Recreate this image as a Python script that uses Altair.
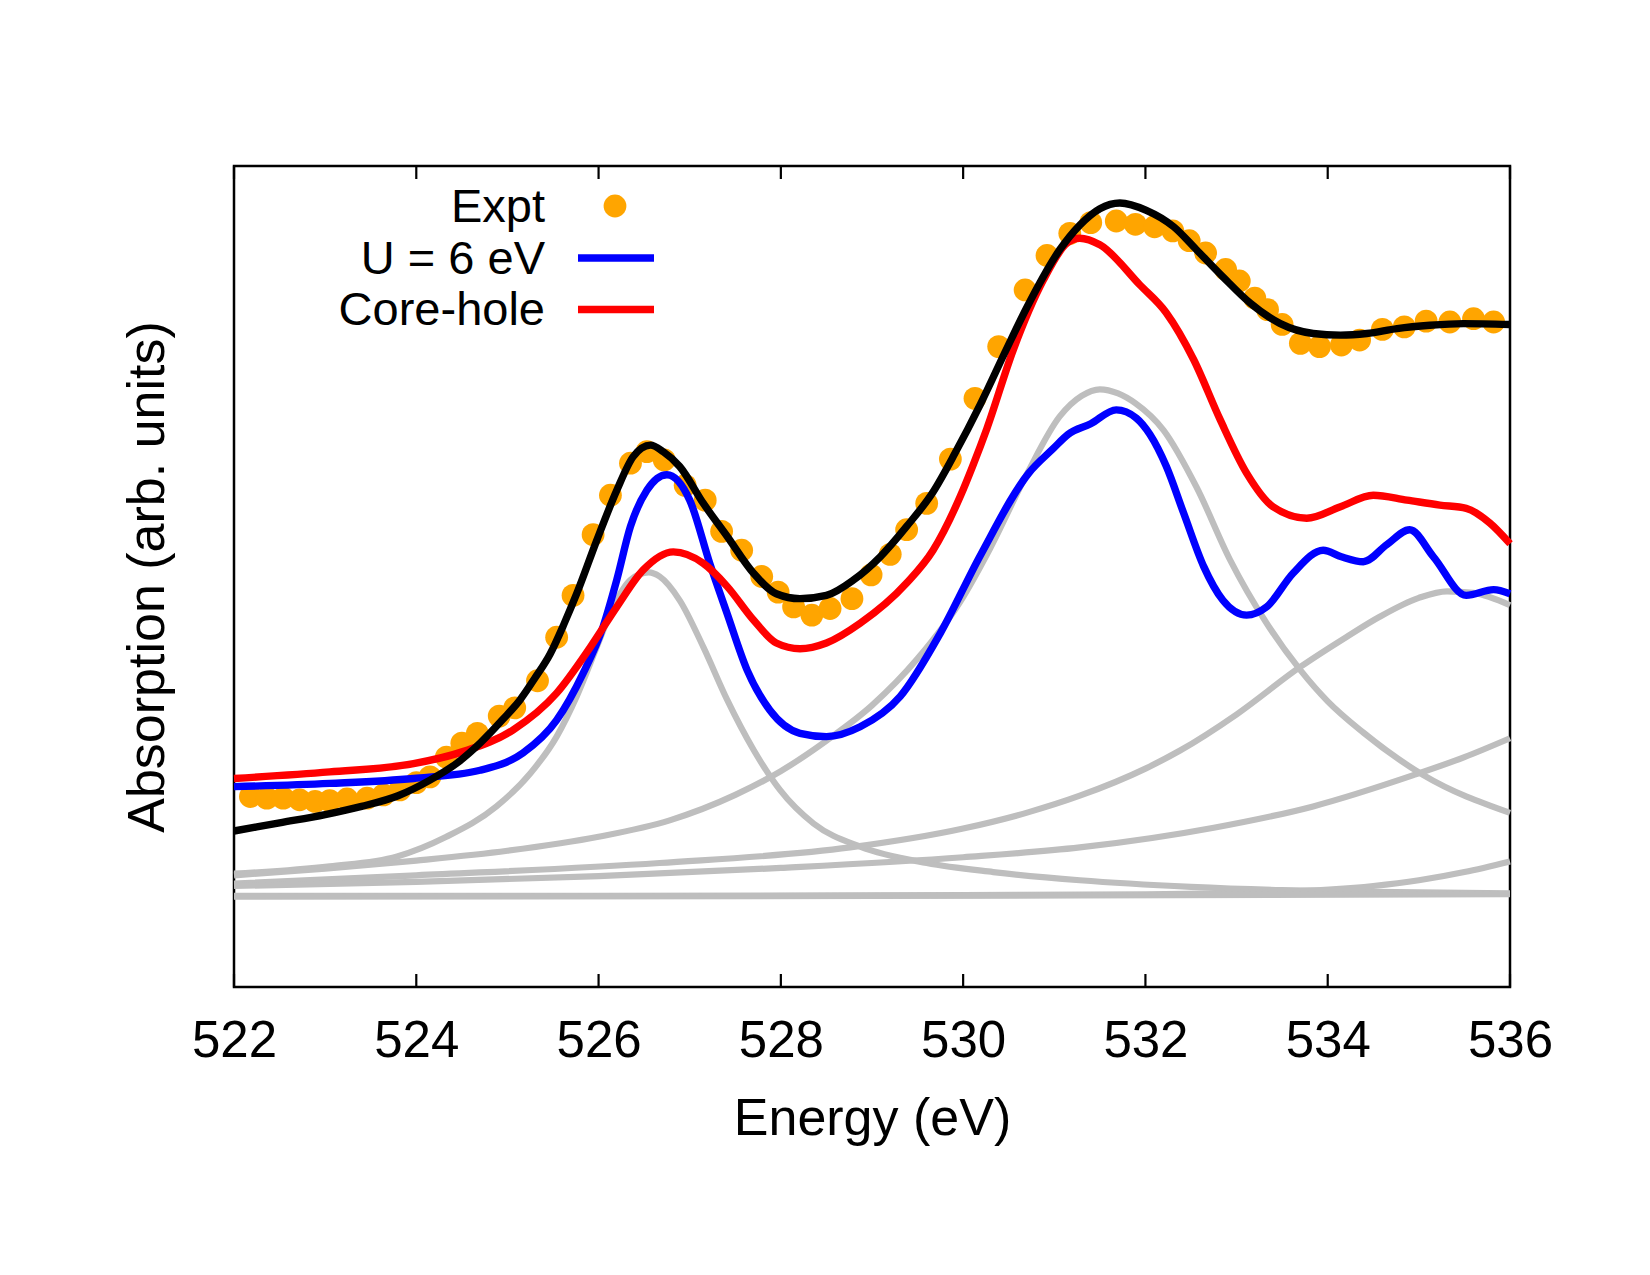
import altair as alt
import pandas as pd

# ---- Experimental O K-edge spectrum (eV, arb. units) ----
expt_energy = [522.18, 522.36, 522.54, 522.72, 522.89, 523.05, 523.24, 523.46, 523.64, 523.82,
               524.00, 524.15, 524.33, 524.50, 524.67, 524.91, 525.08, 525.33, 525.54, 525.72,
               525.94, 526.13, 526.35, 526.53, 526.72, 526.95, 527.17, 527.35, 527.57, 527.79,
               527.97, 528.14, 528.34, 528.54, 528.78, 528.99, 529.20, 529.38, 529.60, 529.86,
               530.13, 530.39, 530.68, 530.92, 531.17, 531.40, 531.68, 531.89, 532.10, 532.30,
               532.48, 532.66, 532.88, 533.03, 533.20, 533.34, 533.50, 533.70, 533.91, 534.15,
               534.35, 534.60, 534.84, 535.08, 535.34, 535.60, 535.82]
expt_abs = [23.2, 23.0, 23.0, 22.8, 22.6, 22.7, 22.9, 23.0, 23.4, 24.0,
            24.9, 25.6, 28.0, 29.7, 30.9, 33.0, 34.0, 37.3, 42.6, 47.7,
            55.1, 59.9, 63.8, 65.2, 64.2, 61.1, 59.3, 55.5, 53.2, 50.0,
            48.1, 46.3, 45.3, 46.1, 47.3, 50.2, 52.7, 55.7, 58.9, 64.3,
            71.7, 78.0, 84.9, 89.1, 91.8, 93.1, 93.3, 92.9, 92.6, 92.1,
            90.9, 89.4, 87.4, 86.0, 83.9, 82.5, 80.7, 78.4, 78.0, 78.2,
            78.8, 80.1, 80.4, 81.1, 81.0, 81.4, 81.0]

# ---- Total fit ----
fit_energy = [522.00, 522.50, 523.00, 523.40, 523.80, 524.15, 524.45, 524.70, 524.95, 525.14,
              525.30, 525.47, 525.62, 525.76, 525.98, 526.20, 526.38, 526.57, 526.71, 526.89,
              527.15, 527.41, 527.70, 527.95, 528.21, 528.50, 528.80, 529.09, 529.38, 529.67,
              529.91, 530.19, 530.48, 530.70, 531.06, 531.28, 531.50, 531.72, 532.01, 532.31,
              532.56, 532.85, 533.15, 533.48, 533.84, 534.14, 534.43, 534.76, 535.12, 535.49,
              536.00]
fit_abs = [19.0, 20.0, 21.0, 22.0, 23.3, 25.2, 27.3, 29.7, 32.6, 35.0,
           37.6, 40.6, 44.2, 47.9, 54.4, 60.5, 64.6, 66.0, 65.2, 63.4,
           58.9, 54.9, 50.4, 47.9, 47.3, 47.7, 49.6, 52.4, 56.1, 60.3,
           65.0, 71.0, 77.8, 82.8, 89.8, 92.8, 94.8, 95.5, 94.6, 92.6,
           89.8, 86.5, 83.3, 80.8, 79.6, 79.4, 79.6, 80.2, 80.6, 80.8,
           80.7]

# ---- DFT+U (U = 6 eV) ----
u6_energy = [522.00, 523.05, 523.97, 524.70, 525.17, 525.54, 525.83, 526.05, 526.20, 526.35,
             526.53, 526.75, 527.00, 527.22, 527.41, 527.63, 527.88, 528.21, 528.50, 528.87,
             529.31, 529.75, 530.19, 530.72, 530.99, 531.15, 531.40, 531.68, 531.90, 532.05,
             532.23, 532.42, 532.64, 532.85, 533.11, 533.33, 533.62, 533.95, 534.15, 534.39,
             534.65, 534.90, 535.16, 535.52, 535.82, 536.00]
u6_abs = [24.4, 24.8, 25.4, 26.4, 28.5, 32.5, 38.2, 43.9, 49.6, 56.1,
          60.5, 62.4, 59.3, 51.6, 45.5, 38.6, 33.7, 30.9, 30.5, 31.7,
          35.4, 43.1, 52.6, 62.6, 65.6, 67.3, 68.6, 70.3, 69.3, 67.3,
          63.4, 57.7, 51.2, 47.1, 45.3, 46.3, 50.4, 53.2, 52.4, 51.8,
          53.9, 55.7, 52.4, 47.7, 48.4, 47.9]

# ---- Core-hole calculation ----
ch_energy = [522.00, 523.05, 523.97, 524.52, 525.06, 525.54, 525.91, 526.20, 526.49, 526.82,
             527.15, 527.41, 527.70, 527.95, 528.21, 528.50, 528.87, 529.38, 529.67, 529.97,
             530.11, 530.26, 530.55, 530.88, 531.14, 531.28, 531.50, 531.94, 532.23, 532.53,
             532.82, 533.11, 533.40, 533.77, 534.14, 534.50, 534.87, 535.23, 535.52, 535.78,
             536.00]
ch_abs = [25.4, 26.2, 27.2, 28.7, 31.3, 35.8, 41.4, 46.3, 50.8, 53.0,
          51.6, 48.8, 44.7, 41.9, 41.2, 41.9, 44.3, 49.2, 53.2, 59.8,
          63.6, 68.0, 77.6, 86.1, 90.6, 91.2, 90.4, 85.5, 82.1, 76.4,
          69.1, 62.6, 58.5, 57.1, 58.5, 59.9, 59.3, 58.7, 58.3, 56.5,
          54.0]

# ---- Fit components ----
peak1_energy = [522.00, 523.05, 523.79, 524.33, 524.88, 525.25, 525.54, 525.76, 525.98, 526.16,
                526.35, 526.55, 526.67, 526.89, 527.15, 527.41, 527.70, 527.99, 528.36, 528.87,
                529.60, 530.33, 531.28, 532.50, 533.50, 534.50, 536.00]
peak1_abs = [13.8, 14.7, 15.9, 18.3, 22.0, 26.0, 30.5, 35.4, 41.4, 46.3,
             49.6, 50.5, 50.0, 47.1, 41.4, 35.0, 28.9, 24.0, 19.9, 17.1,
             15.1, 14.0, 13.0, 12.2, 11.8, 11.6, 11.4]

peak2_energy = [522.00, 523.00, 524.00, 525.00, 526.00, 526.78, 527.50, 528.00, 528.50, 529.00,
                529.50, 530.00, 530.30, 530.70, 531.06, 531.30, 531.50, 531.70, 531.89, 532.20,
                532.56, 532.93, 533.33, 533.70, 534.00, 534.39, 535.05, 536.00]
peak2_abs = [13.6, 14.4, 15.4, 16.6, 18.3, 20.3, 23.4, 26.3, 30.0, 34.3,
             40.0, 47.5, 53.5, 62.5, 69.5, 72.0, 72.8, 72.3, 71.1, 67.8,
             60.9, 52.0, 44.3, 38.6, 34.8, 31.0, 25.8, 21.2]

peak3_energy = [522.00, 524.00, 526.67, 528.76, 530.00, 530.72, 531.28, 532.00, 532.38, 533.00,
                533.70, 534.20, 534.57, 535.00, 535.31, 535.60, 536.00]
peak3_abs = [12.6, 13.6, 15.1, 17.0, 19.3, 21.3, 23.3, 26.6, 28.8, 33.2,
             39.0, 42.6, 45.1, 47.4, 48.2, 48.0, 46.5]

peak4_energy = [522.00, 524.00, 526.00, 528.00, 530.00, 531.28, 532.75, 533.84, 534.94, 535.50,
                536.00]
peak4_abs = [12.3, 12.8, 13.5, 14.5, 15.8, 17.0, 19.4, 22.0, 25.8, 28.0, 30.3]

peak5_energy = [522.00, 526.00, 530.00, 532.00, 533.50, 534.50, 535.00, 535.50, 536.00]
peak5_abs = [11.1, 11.1, 11.2, 11.3, 11.6, 12.3, 13.0, 14.0, 15.3]

step_energy = [522.00, 529.00, 536.00]
step_abs = [11.0, 11.1, 11.3]

tick_values = [522, 524, 526, 528, 530, 532, 534, 536]

legend_labels = ["Expt", "U = 6 eV", "Core-hole"]

FONT = "Liberation Sans"
W, H = 1276, 821


def frame(energy, absorption, name):
    return pd.DataFrame({"energy": energy, "absorption": absorption, "series": name})


components = pd.concat([
    frame(peak1_energy, peak1_abs, "p1"),
    frame(peak2_energy, peak2_abs, "p2"),
    frame(peak3_energy, peak3_abs, "p3"),
    frame(peak4_energy, peak4_abs, "p4"),
    frame(peak5_energy, peak5_abs, "p5"),
    frame(step_energy, step_abs, "step"),
])
expt = frame(expt_energy, expt_abs, "Expt")
u6 = frame(u6_energy, u6_abs, "U = 6 eV")
corehole = frame(ch_energy, ch_abs, "Core-hole")
fit = frame(fit_energy, fit_abs, "Fit")

x_enc = alt.X(
    "energy:Q",
    scale=alt.Scale(domain=[522, 536], nice=False, zero=False),
    axis=alt.Axis(
        values=tick_values, format="d", title="Energy (eV)",
        ticks=False, tickSize=0, domain=False, grid=False,
        labelFont=FONT, labelFontSize=51, labelColor="black",
        labelBaseline="alphabetic", labelPadding=69, labelFlush=False,
        titleFont=FONT, titleFontSize=52, titleFontWeight="normal", titleColor="black",
        titleBaseline="alphabetic", titleY=147,
    ),
)
y_enc = alt.Y(
    "absorption:Q",
    scale=alt.Scale(domain=[0, 100], nice=False, zero=False),
    axis=alt.Axis(
        title="Absorption (arb. units)", labels=False, ticks=False, tickSize=0,
        domain=False, grid=False,
        titleFont=FONT, titleFontSize=52, titleFontWeight="normal", titleColor="black",
        titleAngle=270, titleBaseline="alphabetic", titleX=-71, titleY=H / 2,
    ),
)

gray_lines = alt.Chart(components).mark_line(
    color="#bebebe", strokeWidth=6.2, interpolate="monotone", strokeJoin="round"
).encode(x=x_enc, y=y_enc, detail="series:N")

dots = alt.Chart(expt).mark_circle(size=520, color="#FFA500", opacity=1).encode(x=x_enc, y=y_enc)


def curve(df, color, width):
    return alt.Chart(df).mark_line(
        color=color, strokeWidth=width, interpolate="monotone", strokeJoin="round"
    ).encode(x=x_enc, y=y_enc)


blue_line = curve(u6, "#0000FF", 7.4)
red_line = curve(corehole, "#FF0000", 7.4)
black_line = curve(fit, "#000000", 7.4)

# inward tick marks on bottom and top edges
ticks_df = pd.DataFrame({"energy": tick_values})
bottom_ticks = alt.Chart(ticks_df).mark_rule(color="black", strokeWidth=2.2).encode(
    x=x_enc, y=alt.value(H), y2=alt.value(H - 13)
)
top_ticks = alt.Chart(ticks_df).mark_rule(color="black", strokeWidth=2.2).encode(
    x=x_enc, y=alt.value(0), y2=alt.value(13)
)

# key in the upper-left corner: right-aligned labels followed by samples
one = alt.Data(values=[{}])
key_text = [
    alt.Chart(one).mark_text(
        text=label, align="right", baseline="alphabetic",
        font=FONT, fontSize=47, color="black"
    ).encode(x=alt.value(311), y=alt.value(yb))
    for label, yb in zip(legend_labels, [56, 107.5, 159])
]
key_dot = alt.Chart(one).mark_circle(size=520, color="#FFA500", opacity=1).encode(
    x=alt.value(381), y=alt.value(40)
)
key_blue = alt.Chart(one).mark_rule(color="#0000FF", strokeWidth=7.4).encode(
    x=alt.value(344), x2=alt.value(420), y=alt.value(92)
)
key_red = alt.Chart(one).mark_rule(color="#FF0000", strokeWidth=7.4).encode(
    x=alt.value(344), x2=alt.value(420), y=alt.value(143.5)
)

chart = alt.layer(
    gray_lines, dots, blue_line, red_line, black_line,
    bottom_ticks, top_ticks, *key_text, key_dot, key_blue, key_red,
).properties(
    width=W, height=H,
    autosize=alt.AutoSizeParams(type="none"),
    padding={"left": 234, "top": 166, "right": 140, "bottom": 288},
    background="white",
).configure_view(
    stroke="black", strokeWidth=2.5
)

chart.save("out.html", embed_options={"renderer": "svg", "actions": False})
